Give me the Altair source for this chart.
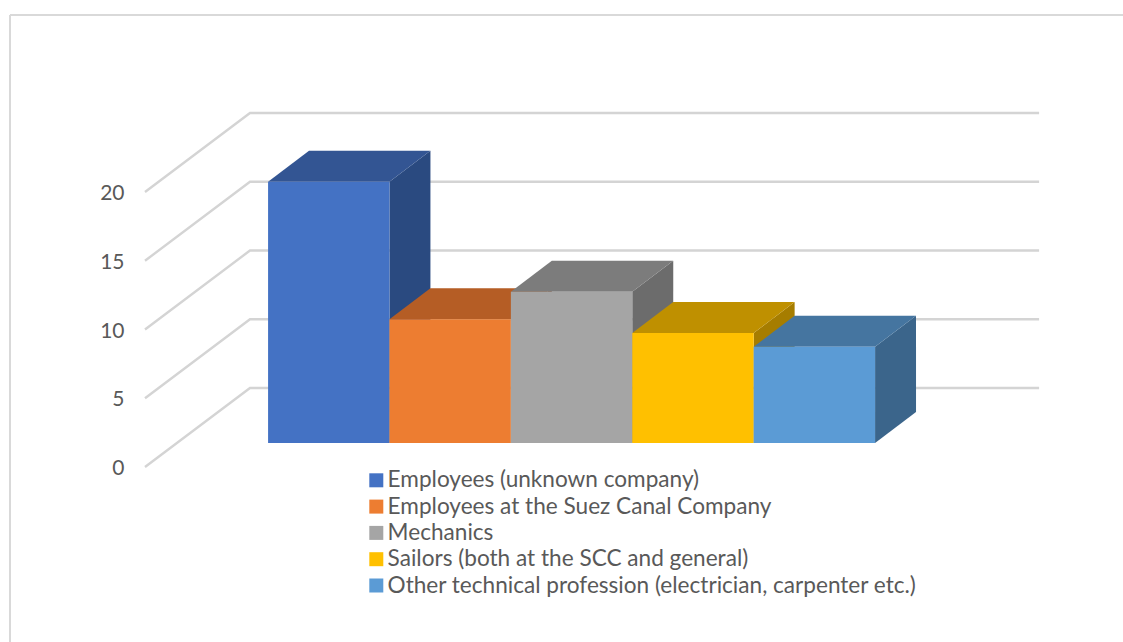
import altair as alt
import pandas as pd

categories = [
    "Employees (unknown company)",
    "Employees at the Suez Canal Company",
    "Mechanics",
    "Sailors (both at the SCC and general)",
    "Other technical profession (electrician, carpenter etc.)",
]
values = [19, 9, 11, 8, 7]
front_colors = ["#4472C4", "#ED7D31", "#A5A5A5", "#FFC000", "#5B9BD5"]
top_colors = ["#335593", "#B55D25", "#7C7C7C", "#BF9000", "#4575A0"]
side_colors = ["#2A4A80", "#9C521F", "#6C6C6C", "#A67D00", "#3B658B"]
axis_levels = [0, 5, 10, 15, 20]

# Oblique projection: depth 0 is the front of the floor, depth 1 the back wall.
SHIFT_X = 105 / 121.4
SHIFT_Y = 79 / 13.75
FLOOR_WIDTH = 6.5
GAP = 0.75
BAR_FRONT = 0.305
BAR_BACK = 0.695


def sx(position, depth):
    return position + depth * SHIFT_X


def sy(value, depth):
    return value + depth * SHIFT_Y


grid_rows = []
for level in axis_levels:
    for order, (pos, depth) in enumerate([(0, 0), (0, 1), (FLOOR_WIDTH, 1)]):
        grid_rows.append({"level": level, "order": order, "x": sx(pos, depth), "y": sy(level, depth)})

front_rows, side_rows, top_rows = [], [], []
for i, (name, value) in enumerate(zip(categories, values)):
    left = GAP + i
    right = left + 1
    front_rows.append({
        "name": name,
        "x": sx(left, BAR_FRONT), "x2": sx(right, BAR_FRONT),
        "y": sy(value, BAR_FRONT), "y2": sy(0, BAR_FRONT),
    })
    for depth in (BAR_FRONT, BAR_BACK):
        side_rows.append({
            "name": name, "shade": side_colors[i], "x": sx(right, depth),
            "y": sy(value, depth), "y2": sy(0, depth),
        })
        top_rows.append({
            "name": name, "shade": top_colors[i], "y": sy(value, depth),
            "x": sx(left, depth), "x2": sx(right, depth),
        })

x_scale = alt.Scale(domain=[-145 / 121.4, (1123 - 145) / 121.4], nice=False, zero=False)
y_scale = alt.Scale(domain=[(467 - 642) / 13.75, 467 / 13.75], nice=False, zero=False)
x_enc = alt.X("x:Q", scale=x_scale, axis=None)
y_axis = alt.Axis(
    values=axis_levels, offset=-124, labelPadding=0, labelOffset=1.5, domain=False, ticks=False, grid=False,
    title=None, labelFont="Lato", labelFontSize=21, labelColor="#595959",
)
y_enc = alt.Y("y:Q", scale=y_scale, axis=y_axis)

frame_left = alt.Chart(pd.DataFrame({"k": [0]})).mark_rule(color="#d9d9d9", strokeWidth=2).encode(
    x=alt.value(10), y=alt.value(15), y2=alt.value(642)
)
frame_top = alt.Chart(pd.DataFrame({"k": [0]})).mark_rule(color="#d9d9d9", strokeWidth=2).encode(
    x=alt.value(10), x2=alt.value(1123), y=alt.value(15)
)

grid = alt.Chart(pd.DataFrame(grid_rows)).mark_line(color="#d4d4d4", strokeWidth=2.4).encode(
    x=x_enc, y=y_enc, detail="level:N", order="order:Q"
)

sides = alt.Chart(pd.DataFrame(side_rows)).mark_area(opacity=1).encode(
    x=x_enc, y=y_enc, y2="y2:Q", detail="name:N",
    fill=alt.Fill("shade:N", scale=None),
)

tops = alt.Chart(pd.DataFrame(top_rows)).mark_area(opacity=1, orient="horizontal").encode(
    y=y_enc, x=x_enc, x2="x2:Q", detail="name:N",
    fill=alt.Fill("shade:N", scale=None),
)

fronts = alt.Chart(pd.DataFrame(front_rows)).mark_rect(opacity=1).encode(
    x=x_enc, x2="x2:Q", y=y_enc, y2="y2:Q",
    color=alt.Color(
        "name:N",
        scale=alt.Scale(domain=categories, range=front_colors),
        sort=categories,
        legend=alt.Legend(
            title=None, orient="none", legendX=365, legendY=469,
            symbolType="square", symbolSize=196, symbolStrokeWidth=0,
            labelFont="Lato", labelFontSize=22.6, labelColor="#595959",
            labelLimit=700, rowPadding=3.3, labelOffset=0, columns=1,
        ),
    ),
)

chart = (
    alt.layer(frame_left, frame_top, grid, sides, tops, fronts)
    .properties(
        width=1123, height=642, padding=0,
        autosize=alt.AutoSizeParams(type="none"),
        background="white",
    )
    .configure_view(stroke=None)
)

chart.save("out.html", embed_options={"renderer": "svg", "actions": False})
